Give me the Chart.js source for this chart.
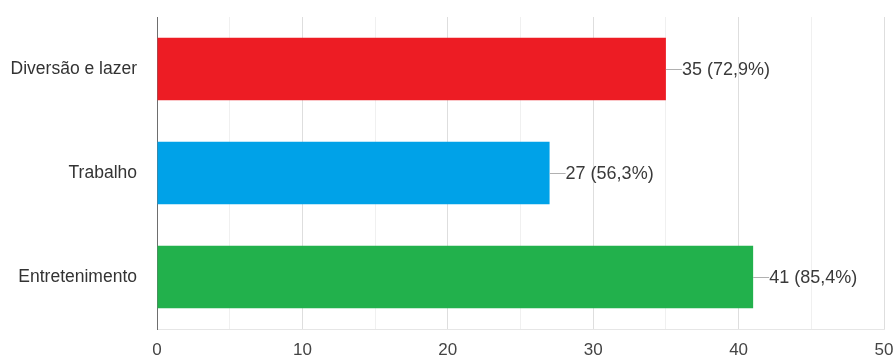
<!DOCTYPE html>
<html>
<head>
<meta charset="utf-8">
<script src="https://cdn.jsdelivr.net/npm/chart.js@4"></script>
<style>
  html, body { margin: 0; padding: 0; background: #fff; }
  #wrap { width: 895px; height: 356px; }
</style>
</head>
<body>
<div id="wrap"><canvas id="graphique"></canvas></div>
<script>
// donnees
const categories = ["Diversão e lazer", "Trabalho", "Entretenimento"];
const valeurs = [35, 27, 41];
const pourcentages = ["72,9%", "56,3%", "85,4%"];
const couleurs = ["#ed1c24", "#00a2e8", "#22b14c"];
const ticksX = [0, 10, 20, 30, 40, 50];

const police = "'Liberation Sans', Arial, sans-serif";

// etiquettes au bout des barres : petit trait + "35 (72,9%)"
const etiquettes = {
    id: "etiquettes",
    afterDatasetsDraw(chart) {
        const ctx = chart.ctx;
        const meta = chart.getDatasetMeta(0);
        ctx.save();
        ctx.font = "18px " + police;
        ctx.textBaseline = "middle";
        ctx.textAlign = "left";
        for (let i = 0; i < meta.data.length; i++) {
            const barre = meta.data[i];
            ctx.strokeStyle = "#b0b0b0";
            ctx.lineWidth = 1;
            ctx.beginPath();
            ctx.moveTo(barre.x, Math.round(barre.y) + 0.5);
            ctx.lineTo(barre.x + 16, Math.round(barre.y) + 0.5);
            ctx.stroke();
            ctx.fillStyle = "#3a3a3a";
            ctx.fillText(valeurs[i] + " (" + pourcentages[i] + ")", barre.x + 16, barre.y + 1);
        }
        ctx.restore();
    }
};

// on retire les marges automatiques des axes pour maitriser la zone du graphe
function sansMarges(scale) {
    scale.paddingTop = 0;
    scale.paddingBottom = 0;
    scale.paddingLeft = 0;
    scale.paddingRight = 0;
}

const data = {
    labels: categories,
    datasets: [{
        data: valeurs,
        backgroundColor: couleurs,
        borderWidth: 0,
        categoryPercentage: 0.6,
        barPercentage: 1
    }]
};

const config = {
    type: "bar",
    data: data,
    plugins: [etiquettes],
    options: {
        indexAxis: "y",
        responsive: true,
        maintainAspectRatio: false,
        animation: false,
        layout: { padding: { top: 17, right: 11, bottom: 0, left: 0 } },
        plugins: {
            legend: { display: false },
            tooltip: { enabled: false }
        },
        scales: {
            x: {
                min: 0,
                max: 50,
                afterFit: (scale) => { scale.height = 27; sansMarges(scale); },
                afterBuildTicks: (scale) => {
                    const t = [];
                    for (let v = 0; v <= 50; v += 5) t.push({ value: v });
                    scale.ticks = t;
                },
                ticks: {
                    padding: 11,
                    color: "#444444",
                    font: { family: police, size: 17 },
                    callback: (v) => ticksX.includes(v) ? String(v) : ""
                },
                grid: {
                    drawTicks: false,
                    color: (c) => (c.tick && c.tick.value % 10 === 0) ? "#dedede" : "#f0f0f0"
                },
                border: { display: true, color: "#e6e6e6" }
            },
            y: {
                afterFit: (scale) => { scale.width = 157; sansMarges(scale); },
                ticks: {
                    padding: 20,
                    color: "#333333",
                    font: { family: police, size: 17.5 }
                },
                grid: { display: false, drawTicks: false },
                border: { display: true, color: "#6e6e6e", width: 1 }
            }
        }
    }
};

const graphique = new Chart(document.querySelector("#graphique"), config);
</script>
</body>
</html>
